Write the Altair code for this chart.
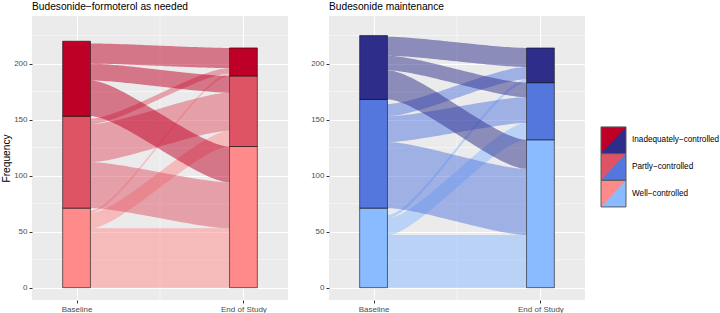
import altair as alt
import numpy as np
import pandas as pd

# ---------------- data ----------------
STATES = ["Well−controlled", "Partly−controlled", "Inadequately−controlled"]  # bottom -> top
LEGEND_ORDER = ["Inadequately−controlled", "Partly−controlled", "Well−controlled"]
TIMEPOINTS = ["Baseline", "End of Study"]
PANEL_TITLES = ["Budesonide−formoterol as needed", "Budesonide maintenance"]

# baseline counts (Well, Partly, Inadequately)
BF_BASELINE = [71, 82, 67]
BM_BASELINE = [71, 97, 57]
# flows: rows = baseline state, cols = end-of-study state (Well, Partly, Inadequately)
BF_FLOWS = [[53, 14, 2], [41, 34, 5], [32, 15, 18]]
BM_FLOWS = [[47, 15, 3], [59, 23, 11], [26, 13, 17]]

BF_COLORS = ["#FF8A8A", "#DE5465", "#BE0026"]
BM_COLORS = ["#8ABAFF", "#5377DD", "#2E2E8A"]

Y_TICKS = [0, 50, 100, 150, 200]
Y_MINOR = [25, 75, 125, 175, 225]
X_MINOR = [1.5]

FONT = "Liberation Sans"
BAR_HALF = 1 / 12
CURVE_K = 0.22


def ribbon_frame(baseline, flows):
    n = len(STATES)
    end = [sum(flows[i][j] for i in range(n)) for j in range(n)]
    b_bottom = list(np.concatenate([[0], np.cumsum(baseline)[:-1]]))
    e_bottom = list(np.concatenate([[0], np.cumsum(end)[:-1]]))
    start = [[0] * n for _ in range(n)]
    stop = [[0] * n for _ in range(n)]
    for i in range(n):
        pos = b_bottom[i]
        for j in range(n):
            start[i][j] = pos
            pos += flows[i][j]
    for j in range(n):
        pos = e_bottom[j]
        for i in range(n):
            stop[i][j] = pos
            pos += flows[i][j]
    x0, x1 = 1 + BAR_HALF, 2 - BAR_HALF
    t = np.linspace(0, 1, 49)
    k = CURVE_K
    xs = x0 + (x1 - x0) * (3 * (1 - t) ** 2 * t * k + 3 * (1 - t) * t ** 2 * (1 - k) + t ** 3)
    s = 3 * (1 - t) * t ** 2 + t ** 3
    rows = []
    for i in range(n):
        for j in range(n):
            cnt = flows[i][j]
            if cnt <= 0:
                continue
            lo = start[i][j] + (stop[i][j] - start[i][j]) * s
            for xv, lv in zip(xs, lo):
                rows.append({"flow": f"{i}-{j}", "src": STATES[i], "x": float(xv),
                             "y": float(lv), "y2": float(lv + cnt)})
    return pd.DataFrame(rows)


def strata_frame(baseline, flows):
    n = len(STATES)
    end = [sum(flows[i][j] for i in range(n)) for j in range(n)]
    rows = []
    for pos, counts in ((1, baseline), (2, end)):
        lo = 0
        for st, c in zip(STATES, counts):
            rows.append({"state": st, "x": pos - BAR_HALF, "x2": pos + BAR_HALF, "y": lo, "y2": lo + c})
            lo += c
    return pd.DataFrame(rows)


x_scale = alt.Scale(domain=[0.733, 2.267], nice=False, zero=False)
y_scale = alt.Scale(domain=[-11, 242.5], nice=False, zero=False)


def panel(baseline, flows, colors, title, show_ytitle):
    x_axis = alt.Axis(values=[1, 2], title=None,
                      labelExpr="datum.value == 1 ? 'Baseline' : 'End of Study'",
                      labelFlush=False, labelOverlap=False)
    y_axis = alt.Axis(values=Y_TICKS, title="Frequency" if show_ytitle else None,
                      titlePadding=2)
    fill_scale = alt.Scale(domain=STATES, range=colors)

    minor_y = alt.Chart(pd.DataFrame({"y": Y_MINOR})).mark_rule(color="white", strokeWidth=0.5).encode(
        y=alt.Y("y:Q", scale=y_scale, axis=y_axis)
    )
    minor_x = alt.Chart(pd.DataFrame({"x": X_MINOR})).mark_rule(color="white", strokeWidth=0.5).encode(
        x=alt.X("x:Q", scale=x_scale, axis=x_axis)
    )
    rib = alt.Chart(ribbon_frame(baseline, flows)).mark_area(opacity=0.5, interpolate="linear").encode(
        x=alt.X("x:Q", scale=x_scale, axis=x_axis),
        y=alt.Y("y:Q", scale=y_scale, axis=y_axis),
        y2="y2:Q",
        fill=alt.Fill("src:N", scale=fill_scale, legend=None),
        detail="flow:N",
    )
    bars = alt.Chart(strata_frame(baseline, flows)).mark_rect(
        stroke="#000000", strokeOpacity=0.55, strokeWidth=1
    ).encode(
        x=alt.X("x:Q", scale=x_scale, axis=x_axis),
        x2="x2:Q",
        y=alt.Y("y:Q", scale=y_scale, axis=y_axis),
        y2="y2:Q",
        fill=alt.Fill("state:N", scale=fill_scale, legend=None),
    )
    return alt.layer(minor_y, minor_x, rib, bars).properties(
        width=256, height=284,
        title=alt.TitleParams(title, anchor="start", frame="group", fontSize=10.2,
                              font=FONT, fontWeight="normal", color="black", offset=4),
    )


left = panel(BF_BASELINE, BF_FLOWS, BF_COLORS, PANEL_TITLES[0], True)
right = panel(BM_BASELINE, BM_FLOWS, BM_COLORS, PANEL_TITLES[1], False)

# ---------------- legend ----------------
leg_df = pd.DataFrame({
    "state": LEGEND_ORDER,
    "k": [0, 1, 2],
})
leg_df["k2"] = leg_df["k"] + 1
leg_df["kmid"] = leg_df["k"] + 0.5
key_scale = alt.Scale(domain=[-4.16, 6.49], reverse=True, nice=False, zero=False)
red_scale = alt.Scale(domain=STATES, range=BF_COLORS)
blue_scale = alt.Scale(domain=STATES, range=BM_COLORS)
leg_base = alt.Chart(leg_df)
KEY_X0 = -25  # keys sit 16px right of the right panel (group starts 41px right of it)
leg_blue = leg_base.mark_rect().encode(
    y=alt.Y("k:Q", scale=key_scale, axis=None),
    y2="k2:Q",
    x=alt.value(KEY_X0), x2=alt.value(KEY_X0 + 25),
    fill=alt.Fill("state:N", scale=blue_scale, legend=None),
)
leg_red = leg_base.mark_point(
    shape="M -1 -1.07 L 1 -1.07 L -1 1.07 Z", size=625, filled=True, opacity=1, strokeWidth=0
).encode(
    y=alt.Y("kmid:Q", scale=key_scale, axis=None),
    x=alt.value(KEY_X0 + 12.5),
    fill=alt.Fill("state:N", scale=red_scale, legend=None),
)
leg_border = leg_base.mark_rect(fill=None, stroke="#5a5a5a", strokeWidth=1).encode(
    y=alt.Y("k:Q", scale=key_scale, axis=None),
    y2="k2:Q",
    x=alt.value(KEY_X0), x2=alt.value(KEY_X0 + 25),
)
leg_text = leg_base.mark_text(align="left", baseline="middle", fontSize=8.2, font=FONT, color="black").encode(
    y=alt.Y("kmid:Q", scale=key_scale, axis=None),
    x=alt.value(KEY_X0 + 31),
    text="state:N",
)
legend = alt.layer(leg_blue, leg_red, leg_border, leg_text).resolve_scale(fill="independent").properties(
    width=90, height=284,
    view=alt.ViewBackground(fill="white", fillOpacity=0, strokeWidth=0),
)

chart = alt.hconcat(left, right, legend, spacing=41, bounds="flush").properties(
    padding={"left": 1, "top": 1, "right": 0, "bottom": 0}
).resolve_scale(fill="independent").configure_view(
    fill="#EBEBEB", strokeWidth=0
).configure_axis(
    domain=False, tickColor="#333333", tickSize=3, tickWidth=1,
    labelColor="#4D4D4D", labelFontSize=8, labelFont=FONT, labelPadding=2,
    titleFont=FONT, titleFontSize=10.2, titleFontWeight="normal", titleColor="black",
    gridColor="white", gridWidth=1,
)

chart.save("out.html", embed_options={"renderer": "svg", "actions": False})
